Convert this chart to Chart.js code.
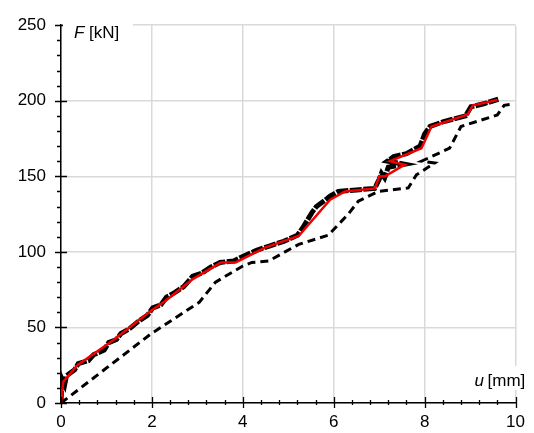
<!DOCTYPE html>
<html>
<head>
<meta charset="utf-8">
<script src="https://cdn.jsdelivr.net/npm/chart.js@4.4.0/dist/chart.umd.min.js"></script>
<style>
  html, body { margin:0; padding:0; background:#fff; }
  #wrap { width:534px; height:433px; }
</style>
</head>
<body>
<div id="wrap"><canvas id="c" width="534" height="433"></canvas></div>
<script>
'use strict';

// ---- Données (u en mm, F en kN) ----
// courbe lissée (rouge)
const uRed = [0, 0.05, 0.36, 1.14, 1.98, 2.31, 2.9, 3.52, 3.84, 4.5, 5.23, 5.92, 6.25, 6.91, 7.0, 7.13, 7.56, 7.24, 7.93, 8.15, 8.95, 9.06, 9.6];
const fRed = [0, 14, 25, 41.4, 61, 67.8, 82, 93, 93, 103, 110.5, 134.5, 140, 142, 150, 150, 157.7, 160, 168.6, 183, 191, 197, 200.5];

// mesure brute (noir, bruitée)
const uRaw = [0, 0.02, 0.08, 0.12, 0.3, 0.38, 0.6, 0.72, 0.95, 1.05, 1.22, 1.32, 1.5, 1.7, 1.9, 2.02, 2.2, 2.32, 2.5, 2.7, 2.9, 3.1, 3.3, 3.5, 3.8, 4.0, 4.3, 4.6, 4.9, 5.2, 5.32, 5.42, 5.52, 5.62, 5.8, 5.92, 6.1, 6.5, 6.9, 7.0, 7.05, 7.12, 7.2, 7.55, 7.18, 7.32, 7.6, 7.9, 8.0, 8.12, 8.4, 8.9, 9.02, 9.3, 9.62];
const fRaw = [0, 16, 12, 18, 22, 26, 28, 32, 35, 40, 42, 46, 49, 54, 58, 63, 65, 70, 73, 77, 84, 86, 90, 93, 94, 97, 101, 104, 107, 111, 116, 121, 126, 130, 134, 137, 140, 141, 142, 148, 152, 149, 156, 158, 160, 163, 165, 170, 178, 183, 186, 190, 196, 198, 201];

// courbe décalée (tirets)
const uShift = [0, 1.98, 3.04, 3.4, 3.99, 4.2, 4.57, 5.23, 5.88, 6.32, 6.54, 6.98, 7.64, 7.82, 8.22, 7.93, 8.55, 8.8, 9.6, 9.75, 9.97];
const fShift = [0, 45.8, 66.6, 80, 90.5, 93, 94, 105, 111, 125, 133.5, 140, 142.3, 151, 158.8, 160, 168.6, 183, 190.6, 197, 198];

const pts = (us, fs) => us.map((u, i) => ({ x: u, y: fs[i] }));

const FONT = "'Liberation Sans', Arial, sans-serif";

// ---- Graduations mineures + titres d'axes ----
const decorPlugin = {
  id: 'decor',
  afterDraw(chart) {
    const { ctx, chartArea: a, scales: { x, y } } = chart;
    ctx.save();
    ctx.strokeStyle = '#000'; ctx.lineWidth = 1.3;
    ctx.beginPath();
    for (let i = 0; i <= 25; i++) {
      const px = Math.round(x.getPixelForValue(i * 0.4)) + 0.5;
      const major = i % 5 === 0;
      ctx.moveTo(px, a.bottom - (major ? 6 : 3));
      ctx.lineTo(px, a.bottom + (major ? 5 : 2));
    }
    for (let i = 0; i <= 25; i++) {
      const py = Math.round(y.getPixelForValue(i * 10)) + 0.5;
      const major = i % 5 === 0;
      ctx.moveTo(a.left - (major ? 6 : 4), py);
      ctx.lineTo(a.left + (major ? 6 : 0), py);
    }
    ctx.stroke();

    // titres
    ctx.fillStyle = '#fff';
    ctx.fillRect(a.left + 2, a.top - 4, 70, 20);
    ctx.fillRect(a.right - 44, a.bottom - 37, 60, 24);
    ctx.fillStyle = '#000';
    ctx.textBaseline = 'alphabetic';
    ctx.font = "italic 17px " + FONT;
    ctx.fillText('F', a.left + 13, a.top + 13);
    ctx.font = "17px " + FONT;
    ctx.fillText('[kN]', a.left + 28, a.top + 13);
    ctx.font = "italic 17px " + FONT;
    ctx.fillText('u', a.right - 41, a.bottom - 17);
    ctx.font = "17px " + FONT;
    ctx.fillText('[mm]', a.right - 28, a.bottom - 17);
    ctx.restore();
  }
};

new Chart(document.getElementById('c').getContext('2d'), {
  type: 'line',
  data: {
    datasets: [
      { label: 'lissé', data: pts(uRed, fRed), borderColor: '#f00000', borderWidth: 2.5,
        pointRadius: 0, tension: 0, fill: false, order: 0 },
      { label: 'mesure', data: pts(uRaw, fRaw), borderColor: '#000', borderWidth: 5,
        borderDash: [12, 1.5], pointRadius: 0, tension: 0, fill: false, order: 1 },
      { label: 'décalé', data: pts(uShift, fShift), borderColor: '#000', borderWidth: 3,
        borderDash: [8, 5], pointRadius: 0, tension: 0, fill: false, order: 2 }
    ]
  },
  options: {
    responsive: false, animation: false,
    layout: { padding: { top: 21, right: 16, left: 0, bottom: 0 } },
    plugins: { legend: { display: false }, tooltip: { enabled: false } },
    scales: {
      x: {
        type: 'linear', min: 0, max: 10,
        ticks: { stepSize: 2, color: '#000', padding: 9, font: { family: FONT, size: 17 }, maxRotation: 0 },
        grid: { color: '#d9d9d9', lineWidth: 1.5, drawTicks: false },
        border: { color: '#000', width: 1.5 },
        afterFit: s => { s.height = 30; }
      },
      y: {
        type: 'linear', min: 0, max: 250,
        ticks: { stepSize: 50, color: '#000', padding: 15, font: { family: FONT, size: 17 } },
        grid: { color: '#d9d9d9', lineWidth: 1.5, drawTicks: false },
        border: { color: '#000', width: 1.5 },
        afterFit: s => { s.width = 61; }
      }
    }
  },
  plugins: [decorPlugin]
});
</script>
</body>
</html>
